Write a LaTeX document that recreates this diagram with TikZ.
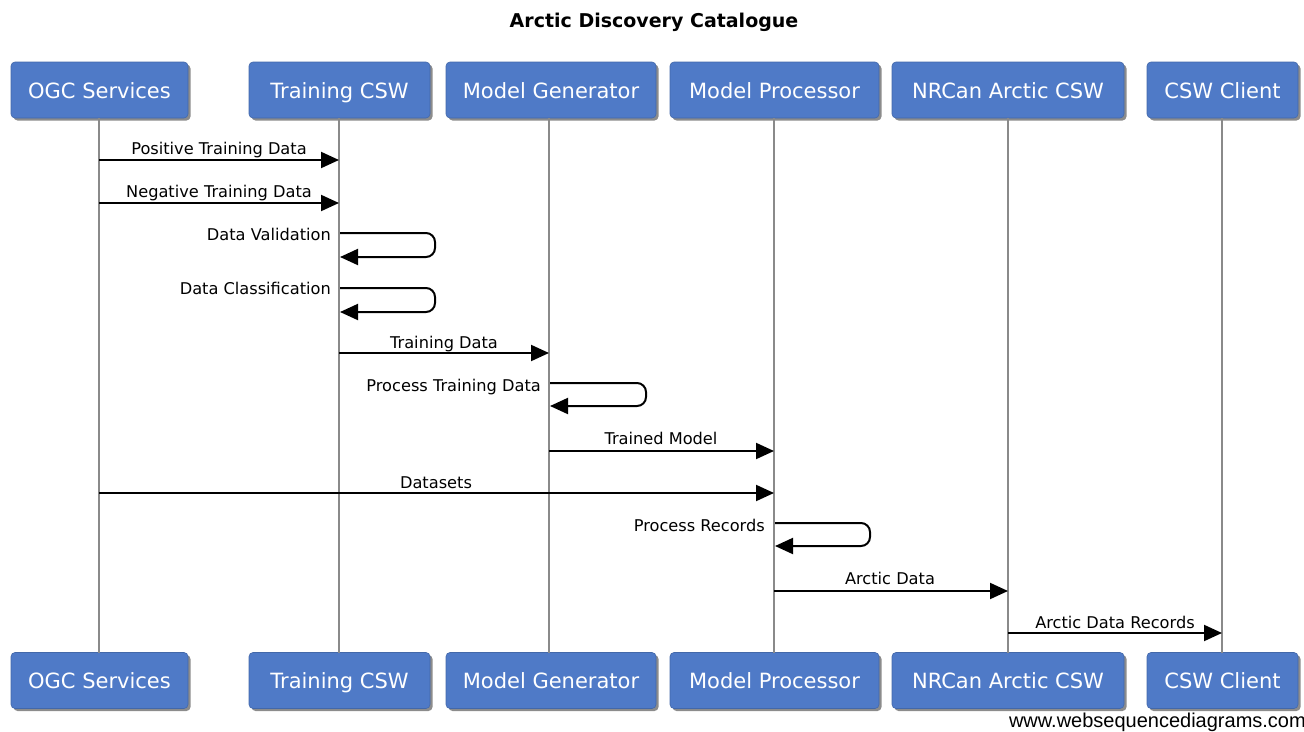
\documentclass[tikz,border=0pt]{standalone}
\usepackage{fontspec}
\setmainfont{DejaVu Sans}
\newfontfamily\wmfont{Liberation Sans}
\usetikzlibrary{arrows.meta,shadows,calc}
\definecolor{boxblue}{HTML}{4F7AC7}
\definecolor{lifegray}{HTML}{8A8A8A}
\tikzset{
  actor/.style={draw=boxblue!85!black, line width=0.6pt, fill=boxblue, rounded corners=4pt, text=white,
    minimum height=56pt, inner sep=0pt, text height=16pt, text depth=0pt, font=\fontsize{21}{23}\selectfont,
    drop shadow={shadow xshift=2.5pt, shadow yshift=-2.5pt, opacity=0.45, fill=black}},
  lifeline/.style={draw=lifegray, line width=2pt},
  msg/.style={draw=black, line width=2pt, -{Triangle[length=18pt,width=16pt]}},
  selfmsg/.style={msg, rounded corners=9pt},
  lbl/.style={font=\fontsize{16.2}{18}\selectfont, inner sep=0pt, anchor=base},
  slbl/.style={font=\fontsize{16.2}{18}\selectfont, inner sep=0pt, anchor=base east},
}
\begin{document}
\begin{tikzpicture}[x=1pt,y=-1pt]
\useasboundingbox (0,0) rectangle (1304,731);
\node[font=\bfseries\fontsize{19}{21}\selectfont] (title) at (654,22) {Arctic Discovery Catalogue};

% top actors
\node[actor, minimum width=177pt] (t1) at (99.5,90) {OGC Services};
\node[actor, minimum width=181pt] (t2) at (339.5,90) {Training CSW};
\node[actor, minimum width=210pt] (t3) at (551,90) {Model Generator};
\node[actor, minimum width=209pt] (t4) at (774.5,90) {Model Processor};
\node[actor, minimum width=232pt] (t5) at (1008,90) {NRCan Arctic CSW};
\node[actor, minimum width=151pt] (t6) at (1222.5,90) {CSW Client};
% bottom actors
\node[actor, minimum width=177pt] (b1) at (99.5,680.5) {OGC Services};
\node[actor, minimum width=181pt] (b2) at (339.5,680.5) {Training CSW};
\node[actor, minimum width=210pt] (b3) at (551,680.5) {Model Generator};
\node[actor, minimum width=209pt] (b4) at (774.5,680.5) {Model Processor};
\node[actor, minimum width=232pt] (b5) at (1008,680.5) {NRCan Arctic CSW};
\node[actor, minimum width=151pt] (b6) at (1222.5,680.5) {CSW Client};

% lifelines
\draw[lifeline] (99,118) coordinate (l1t) -- (99,653) coordinate (l1b);
\draw[lifeline] (339,118) coordinate (l2t) -- (339,653) coordinate (l2b);
\draw[lifeline] (549,118) coordinate (l3t) -- (549,653) coordinate (l3b);
\draw[lifeline] (774,118) coordinate (l4t) -- (774,653) coordinate (l4b);
\draw[lifeline] (1008,118) coordinate (l5t) -- (1008,653) coordinate (l5b);
\draw[lifeline] (1222,118) coordinate (l6t) -- (1222,653) coordinate (l6b);

% message end points
\coordinate (m1a) at (99,160);  \coordinate (m1b) at (339,160);
\coordinate (m2a) at (99,203);  \coordinate (m2b) at (339,203);
\coordinate (m3a) at (340,233); \coordinate (m3b) at (340,257);
\coordinate (m4a) at (340,288); \coordinate (m4b) at (340,312);
\coordinate (m5a) at (339,353); \coordinate (m5b) at (549,353);
\coordinate (m6a) at (550,383); \coordinate (m6b) at (550,406);
\coordinate (m7a) at (549,451); \coordinate (m7b) at (774,451);
\coordinate (m8a) at (99,493);  \coordinate (m8b) at (774,493);
\coordinate (m9a) at (775,523); \coordinate (m9b) at (775,546);
\coordinate (m10a) at (774,591); \coordinate (m10b) at (1008,591);
\coordinate (m11a) at (1008,633); \coordinate (m11b) at (1222,633);

\draw[msg] (m1a) -- (m1b);
\node[lbl] (n1) at (219,154) {Positive Training Data};
\draw[msg] (m2a) -- (m2b);
\node[lbl] (n2) at (219,197) {Negative Training Data};
\draw[selfmsg] (m3a) -- ++(95,0) |- (m3b);
\node[slbl] (n3) at (331,240) {Data Validation};
\draw[selfmsg] (m4a) -- ++(95,0) |- (m4b);
\node[slbl] (n4) at (331,294) {Data Classification};
\draw[msg] (m5a) -- (m5b);
\node[lbl] (n5) at (444,348) {Training Data};
\draw[selfmsg] (m6a) -- ++(96,0) |- (m6b);
\node[slbl] (n6) at (541,391) {Process Training Data};
\draw[msg] (m7a) -- (m7b);
\node[lbl] (n7) at (661,444) {Trained Model};
\draw[msg] (m8a) -- (m8b);
\node[lbl] (n8) at (436,488) {Datasets};
\draw[selfmsg] (m9a) -- ++(95,0) |- (m9b);
\node[slbl] (n9) at (765,531) {Process Records};
\draw[msg] (m10a) -- (m10b);
\node[lbl] (n10) at (890,584) {Arctic Data};
\draw[msg] (m11a) -- (m11b);
\node[lbl] (n11) at (1115,628) {Arctic Data Records};

\node[font=\wmfont\fontsize{20}{22}\selectfont, anchor=base east, inner sep=0pt] (wm) at (1306,727) {www.websequencediagrams.com};
\end{tikzpicture}
\end{document}
